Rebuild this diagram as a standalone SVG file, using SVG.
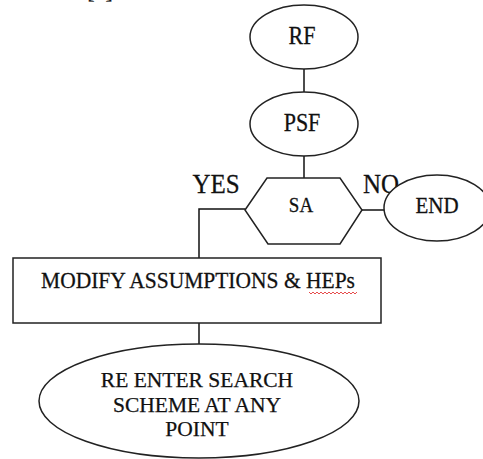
<svg xmlns="http://www.w3.org/2000/svg" width="483" height="459" viewBox="0 0 483 459">
<style>
.s{fill:#fff;stroke:#222;stroke-width:1.5}
.c{fill:none;stroke:#111;stroke-width:1.5}
text{font-family:'Liberation Serif','Times New Roman','DejaVu Serif',serif;fill:#111;stroke:#111;stroke-width:0.25;text-anchor:middle}
</style>
<rect width="483" height="459" fill="#fff"/>
<text x="100" y="-2" font-size="22">[1]</text>
<g id="connectors">
<line class="c" x1="304" y1="69" x2="304" y2="92"/>
<line class="c" x1="304" y1="156" x2="304" y2="178"/>
<line class="c" x1="362" y1="210" x2="385" y2="210"/>
<polyline class="c" points="245,209 199,209 199,258"/>
<line class="c" x1="199" y1="323" x2="199" y2="344"/>
<text transform="translate(216,193) scale(1,1.1)" font-size="25">YES</text>
<text transform="translate(381,193) scale(1,1.1)" font-size="25">NO</text>
</g>
<g id="rf">
<ellipse class="s" cx="304" cy="37" rx="54" ry="32"/>
<text transform="translate(302,44) scale(1,1.1)" font-size="22">RF</text>
</g>
<g id="psf">
<ellipse class="s" cx="304" cy="124" rx="54" ry="32"/>
<text transform="translate(302,131) scale(1,1.1)" font-size="22">PSF</text>
</g>
<g id="sa">
<polygon class="s" points="245,210 267,178 340,178 362,210 340,244 268,244"/>
<text transform="translate(301,212) scale(1,1.1)" font-size="19">SA</text>
</g>
<g id="end">
<ellipse class="s" cx="437" cy="208" rx="53" ry="33"/>
<text transform="translate(437,213) scale(1,1.1)" font-size="21">END</text>
</g>
<g id="modify">
<rect class="s" x="13" y="258" width="368" height="65"/>
<text transform="translate(198,288) scale(1,1.1)" font-size="21.5">MODIFY ASSUMPTIONS &amp; HEPs</text>
<path d="M309,292 l2,2 l2,-2 l2,2 l2,-2 l2,2 l2,-2 l2,2 l2,-2 l2,2 l2,-2 l2,2 l2,-2 l2,2 l2,-2 l2,2 l2,-2 l2,2 l2,-2 l2,2 l2,-2 l2,2 l2,-2 l2,2 l2,-2" fill="none" stroke="#e02020" stroke-width="0.8"/>
</g>
<g id="reenter">
<ellipse class="s" cx="199" cy="401" rx="160" ry="57"/>
<text x="197" y="387" font-size="21.5">RE ENTER SEARCH</text>
<text x="197" y="412" font-size="21.5">SCHEME AT ANY</text>
<text x="197" y="436" font-size="21.5">POINT</text>
</g>
</svg>
